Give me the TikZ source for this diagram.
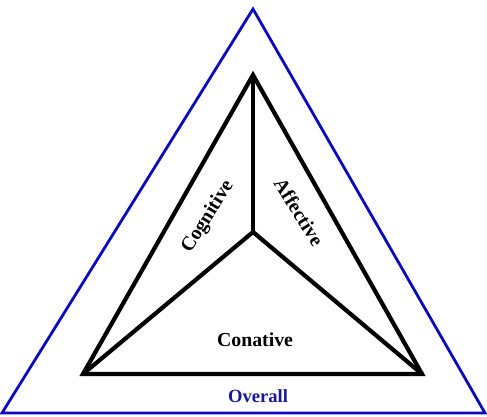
\documentclass[tikz,border=0pt]{standalone}
\usepackage{fontspec}
\setmainfont{Liberation Serif}
\definecolor{outerblue}{RGB}{10,10,190}
\definecolor{labelblue}{RGB}{25,25,150}
\tikzset{
  outerline/.style={draw=outerblue, line width=2.8pt, line join=miter},
  innerline/.style={draw=black, line width=4.2pt, line join=miter},
  spoke/.style={draw=black, line width=4.2pt, line cap=round},
  lbl/.style={font=\bfseries\fontsize{19.8}{22}\selectfont, inner sep=0pt},
}
\begin{document}
\begin{tikzpicture}[x=1pt,y=1pt]
  \useasboundingbox (0,0) rectangle (487,416);
  % outer triangle
  \coordinate (oa) at (253,407);
  \coordinate (ol) at (2,3);
  \coordinate (or) at (485,3);
  \draw[outerline] (oa) -- (ol) -- (or) -- cycle;
  % inner triangle and centre
  \coordinate (ia) at (253,341);
  \coordinate (il) at (83,42);
  \coordinate (ir) at (422,42);
  \coordinate (c) at (253,184);
  \draw[innerline] (ia) -- (il) -- (ir) -- cycle;
  \draw[spoke] (c) -- (ia);
  \draw[spoke] (c) -- (il);
  \draw[spoke] (c) -- (ir);
  % labels
  \node[lbl, rotate=58] (cog) at (208,199) {Cognitive};
  \node[lbl, rotate=-58] (aff) at (299,204) {Affective};
  \node[lbl] (con) at (255,76) {Conative};
  \node[lbl, text=labelblue, font=\bfseries\fontsize{18.6}{20}\selectfont] (ovr) at (258,20) {Overall};
\end{tikzpicture}
\end{document}
